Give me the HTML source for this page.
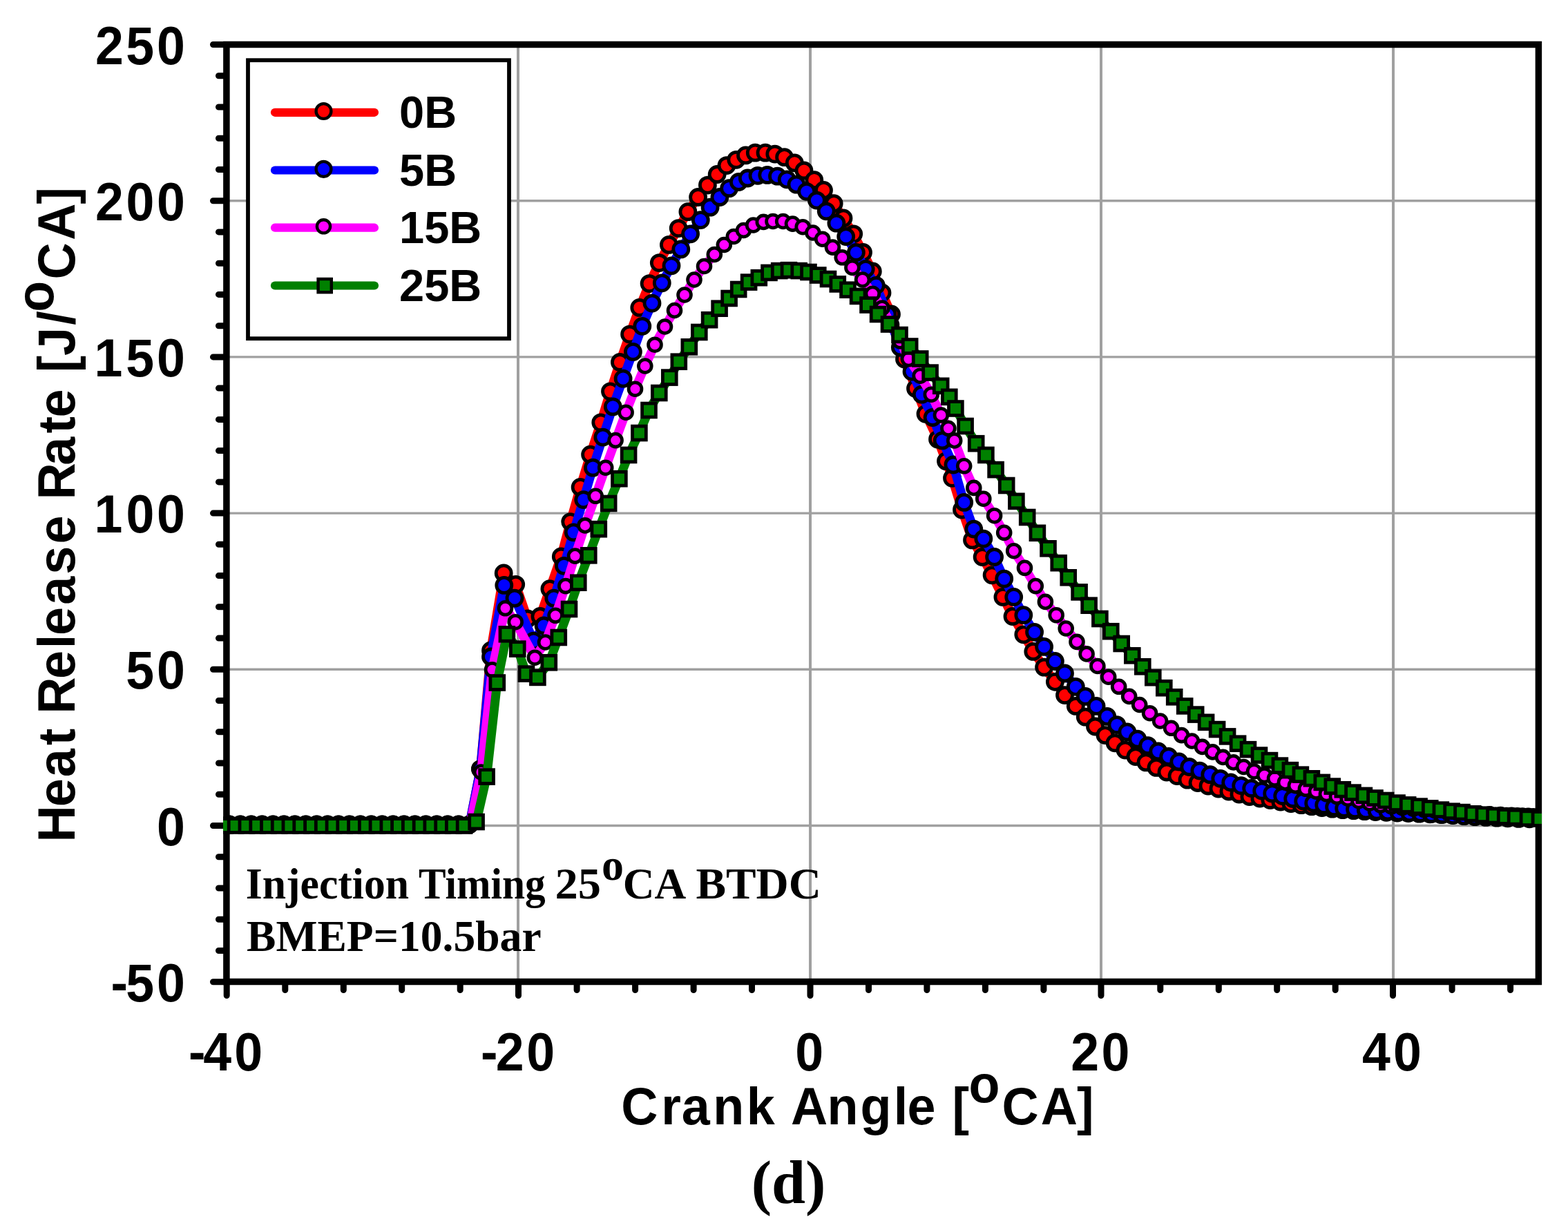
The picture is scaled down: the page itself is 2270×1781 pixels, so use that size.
<!DOCTYPE html><html><head><meta charset="utf-8"><title>Heat Release Rate</title><style>html,body{margin:0;padding:0;background:#fff;overflow:hidden;}svg{display:block;}</style></head><body>
<svg width="2270" height="1781" viewBox="0 0 2270 1781">
<rect x="0" y="0" width="2270" height="1781" fill="#fff"/>
<defs><clipPath id="pc"><rect x="323" y="60" width="1909" height="1366"/></clipPath></defs>
<path d="M750 64.5V1421.5M1173 64.5V1421.5M1594 64.5V1421.5M2017 64.5V1421.5" stroke="#a0a0a0" stroke-width="4" fill="none"/>
<path d="M328 1195.5H2228M328 969.3H2228M328 743.1H2228M328 516.9H2228M328 290.7H2228" stroke="#a0a0a0" stroke-width="3.4" fill="none"/>
<g font-family="'Liberation Serif','Times New Roman',serif" font-weight="bold" font-size="64"><text x="355.8" y="1300.8" textLength="236.2" lengthAdjust="spacingAndGlyphs">Injection</text><text x="605.9" y="1300.8" textLength="183.7" lengthAdjust="spacingAndGlyphs">Timing</text><text x="803.6" y="1300.8" textLength="66.5" lengthAdjust="spacingAndGlyphs">25</text><text x="871" y="1274.3">o</text><text x="901.7" y="1300.8" textLength="91.5" lengthAdjust="spacingAndGlyphs">CA</text><text x="1007.5" y="1300.8" textLength="181.4" lengthAdjust="spacingAndGlyphs">BTDC</text></g>
<text x="357" y="1377" font-family="'Liberation Serif','Times New Roman',serif" font-weight="bold" font-size="64" textLength="426.6" lengthAdjust="spacingAndGlyphs">BMEP=10.5bar</text>
<rect x="327.9" y="64.5" width="1899.5" height="1357" fill="none" stroke="#000" stroke-width="9.5"/>
<path d="M308.5 1421.7H327M316.5 1376.5H327M316.5 1331.2H327M316.5 1286.0H327M316.5 1240.7H327M308.5 1195.5H327M316.5 1150.3H327M316.5 1105.0H327M316.5 1059.8H327M316.5 1014.5H327M308.5 969.3H327M316.5 924.1H327M316.5 878.8H327M316.5 833.6H327M316.5 788.3H327M308.5 743.1H327M316.5 697.9H327M316.5 652.6H327M316.5 607.4H327M316.5 562.1H327M308.5 516.9H327M316.5 471.7H327M316.5 426.4H327M316.5 381.2H327M316.5 335.9H327M308.5 290.7H327M316.5 245.5H327M316.5 200.2H327M316.5 155.0H327M316.5 109.7H327M308.5 64.5H327M328.2 1422V1441.5M412.8 1422V1433.5M497.3 1422V1433.5M581.7 1422V1433.5M666.2 1422V1433.5M750.5 1422V1441.5M835.1 1422V1433.5M919.6 1422V1433.5M1004.1 1422V1433.5M1088.5 1422V1433.5M1173.0 1422V1441.5M1257.5 1422V1433.5M1341.9 1422V1433.5M1426.4 1422V1433.5M1510.9 1422V1433.5M1594.0 1422V1441.5M1679.8 1422V1433.5M1764.3 1422V1433.5M1848.7 1422V1433.5M1933.2 1422V1433.5M2016.5 1422V1441.5M2102.1 1422V1433.5M2186.6 1422V1433.5" stroke="#000" stroke-width="9" stroke-linecap="round" fill="none"/>
<text transform="scale(0.955 1)" x="168.16 190.83 237.70" y="1449.9" font-family="'Liberation Sans',Arial,Helvetica,sans-serif" font-weight="bold" font-size="77.0">-50</text>
<text transform="scale(0.955 1)" x="237.70" y="1223.7" font-family="'Liberation Sans',Arial,Helvetica,sans-serif" font-weight="bold" font-size="77.0">0</text>
<text transform="scale(0.955 1)" x="190.83 237.70" y="997.5" font-family="'Liberation Sans',Arial,Helvetica,sans-serif" font-weight="bold" font-size="77.0">50</text>
<text transform="scale(0.955 1)" x="142.89 191.00 237.70" y="771.3" font-family="'Liberation Sans',Arial,Helvetica,sans-serif" font-weight="bold" font-size="77.0">100</text>
<text transform="scale(0.955 1)" x="142.89 190.83 237.70" y="545.1" font-family="'Liberation Sans',Arial,Helvetica,sans-serif" font-weight="bold" font-size="77.0">150</text>
<text transform="scale(0.955 1)" x="144.45 191.00 237.70" y="318.9" font-family="'Liberation Sans',Arial,Helvetica,sans-serif" font-weight="bold" font-size="77.0">200</text>
<text transform="scale(0.955 1)" x="144.45 190.83 237.70" y="92.7" font-family="'Liberation Sans',Arial,Helvetica,sans-serif" font-weight="bold" font-size="77.0">250</text>
<text transform="scale(0.955 1)" x="285.75 308.16 355.29" y="1550.3" font-family="'Liberation Sans',Arial,Helvetica,sans-serif" font-weight="bold" font-size="77.0">-40</text>
<text transform="scale(0.955 1)" x="728.68 751.67 798.23" y="1550.3" font-family="'Liberation Sans',Arial,Helvetica,sans-serif" font-weight="bold" font-size="77.0">-20</text>
<text transform="scale(0.955 1)" x="1205.56" y="1550.3" font-family="'Liberation Sans',Arial,Helvetica,sans-serif" font-weight="bold" font-size="77.0">0</text>
<text transform="scale(0.955 1)" x="1623.19 1669.74" y="1550.3" font-family="'Liberation Sans',Arial,Helvetica,sans-serif" font-weight="bold" font-size="77.0">20</text>
<text transform="scale(0.955 1)" x="2065.02 2112.15" y="1550.3" font-family="'Liberation Sans',Arial,Helvetica,sans-serif" font-weight="bold" font-size="77.0">40</text>
<text transform="scale(0.96 1)" y="1627.8" font-family="'Liberation Sans',Arial,Helvetica,sans-serif" font-weight="bold" font-size="76.7"><tspan x="936.78 997.03 1027.77 1075.28 1125.90 1168.56 1192.73 1247.41 1297.31 1347.61 1368.33 1410.98 1436.06">Crank Angle [</tspan><tspan x="1460.95" dy="-31.5">o</tspan><tspan x="1510.84 1569.60 1623.97" dy="31.5">CA]</tspan></text>
<text transform="translate(108 0) rotate(-90) scale(0.96 1)" y="0" font-family="'Liberation Sans',Arial,Helvetica,sans-serif" font-weight="bold" font-size="76.7"><tspan x="-1270.23 -1216.83 -1172.02 -1124.23 -1098.69 -1076.92 -1023.96 -978.38 -958.39 -912.33 -866.52 -820.32 -777.66 -753.74 -701.76 -653.76 -629.59 -586.93 -561.75 -536.42 -490.24">Heat Release Rate [J/</tspan><tspan x="-470.51" dy="-30.8">o</tspan><tspan x="-421.34 -362.27 -308.17" dy="30.8">CA]</tspan></text>
<text x="1141.5" y="1741.9" text-anchor="middle" font-family="'Liberation Serif','Times New Roman',serif" font-weight="bold" font-size="88">(d)</text>
<g clip-path="url(#pc)">
<polyline points="316.3,1193.8 332.1,1193.8 347.9,1193.8 363.7,1193.8 379.5,1193.8 395.3,1193.8 411.1,1193.8 426.9,1193.8 442.7,1193.8 458.5,1193.8 474.3,1193.8 490.1,1193.8 505.9,1193.8 521.7,1193.8 537.5,1193.8 553.3,1193.8 569.1,1193.8 584.9,1193.8 600.7,1193.8 616.5,1193.8 632.3,1193.8 648.1,1193.8 663.9,1193.8 679.7,1193.8 695.5,1113.6 710.5,942.0 729.2,829.9 746.7,846.3 763.7,896.0 781.9,892.5 795.9,852.7 812.3,806.0 825.7,755.6 840.1,705.4 854.6,658.2 869.8,611.8 883.5,566.8 897.4,524.5 911.6,484.1 925.8,445.4 940.1,410.6 954.3,380.6 968.4,354.4 982.2,330.6 995.9,306.7 1010.6,285.5 1024.4,268.1 1038.2,252.5 1052.0,239.6 1065.8,231.3 1079.5,224.9 1093.3,221.2 1108.0,221.2 1121.8,223.1 1135.6,227.7 1150.3,235.9 1164.0,247.0 1178.8,260.7 1192.5,275.4 1207.2,294.7 1221.0,315.9 1235.7,338.8 1249.5,365.5 1263.3,393.0 1277.0,424.0 1290.5,455.0 1309.5,520.0 1325.5,562.4 1340.0,599.3 1357.5,636.1 1369.5,667.7 1378.5,692.3 1392.5,738.0 1407.5,781.9 1422.1,806.5 1436.1,832.8 1451.9,864.4 1466.0,892.5 1481.8,918.8 1495.8,943.4 1511.6,966.2 1527.4,987.3 1541.5,1006.6 1557.3,1022.4 1571.3,1038.2 1585.5,1052.0 1600.0,1064.6 1614.1,1075.8 1629.0,1086.1 1644.0,1095.5 1659.0,1103.9 1674.0,1111.4 1689.0,1118.0 1704.0,1123.6 1719.0,1129.2 1734.0,1133.5 1749.0,1138.0 1764.0,1142.0 1778.9,1146.0 1793.9,1150.0 1808.9,1153.5 1823.9,1156.0 1838.9,1158.5 1853.9,1161.0 1868.9,1163.5 1883.9,1165.7 1898.9,1167.7 1913.8,1169.5 1928.8,1171.2 1943.8,1172.7 1959.6,1173.7 1975.4,1174.7 1991.2,1175.6 2007.0,1176.3 2022.8,1177.0 2038.6,1177.6 2054.4,1178.2 2070.2,1178.8 2086.0,1179.5 2101.8,1180.1 2117.6,1180.6 2133.4,1181.1 2149.2,1181.5 2165.0,1181.8 2180.8,1182.2 2196.6,1182.5 2212.4,1182.8 2228.2,1183.0" fill="none" stroke="#ff0000" stroke-width="13" stroke-linejoin="round" stroke-linecap="round"/>
<g fill="#ff0000" stroke="#000" stroke-width="4.8"><circle cx="316.3" cy="1193.8" r="11.0"/><circle cx="332.1" cy="1193.8" r="11.0"/><circle cx="347.9" cy="1193.8" r="11.0"/><circle cx="363.7" cy="1193.8" r="11.0"/><circle cx="379.5" cy="1193.8" r="11.0"/><circle cx="395.3" cy="1193.8" r="11.0"/><circle cx="411.1" cy="1193.8" r="11.0"/><circle cx="426.9" cy="1193.8" r="11.0"/><circle cx="442.7" cy="1193.8" r="11.0"/><circle cx="458.5" cy="1193.8" r="11.0"/><circle cx="474.3" cy="1193.8" r="11.0"/><circle cx="490.1" cy="1193.8" r="11.0"/><circle cx="505.9" cy="1193.8" r="11.0"/><circle cx="521.7" cy="1193.8" r="11.0"/><circle cx="537.5" cy="1193.8" r="11.0"/><circle cx="553.3" cy="1193.8" r="11.0"/><circle cx="569.1" cy="1193.8" r="11.0"/><circle cx="584.9" cy="1193.8" r="11.0"/><circle cx="600.7" cy="1193.8" r="11.0"/><circle cx="616.5" cy="1193.8" r="11.0"/><circle cx="632.3" cy="1193.8" r="11.0"/><circle cx="648.1" cy="1193.8" r="11.0"/><circle cx="663.9" cy="1193.8" r="11.0"/><circle cx="679.7" cy="1193.8" r="11.0"/><circle cx="695.5" cy="1113.6" r="11.0"/><circle cx="710.5" cy="942.0" r="11.0"/><circle cx="729.2" cy="829.9" r="11.0"/><circle cx="746.7" cy="846.3" r="11.0"/><circle cx="763.7" cy="896.0" r="11.0"/><circle cx="781.9" cy="892.5" r="11.0"/><circle cx="795.9" cy="852.7" r="11.0"/><circle cx="812.3" cy="806.0" r="11.0"/><circle cx="825.7" cy="755.6" r="11.0"/><circle cx="840.1" cy="705.4" r="11.0"/><circle cx="854.6" cy="658.2" r="11.0"/><circle cx="869.8" cy="611.8" r="11.0"/><circle cx="883.5" cy="566.8" r="11.0"/><circle cx="897.4" cy="524.5" r="11.0"/><circle cx="911.6" cy="484.1" r="11.0"/><circle cx="925.8" cy="445.4" r="11.0"/><circle cx="940.1" cy="410.6" r="11.0"/><circle cx="954.3" cy="380.6" r="11.0"/><circle cx="968.4" cy="354.4" r="11.0"/><circle cx="982.2" cy="330.6" r="11.0"/><circle cx="995.9" cy="306.7" r="11.0"/><circle cx="1010.6" cy="285.5" r="11.0"/><circle cx="1024.4" cy="268.1" r="11.0"/><circle cx="1038.2" cy="252.5" r="11.0"/><circle cx="1052.0" cy="239.6" r="11.0"/><circle cx="1065.8" cy="231.3" r="11.0"/><circle cx="1079.5" cy="224.9" r="11.0"/><circle cx="1093.3" cy="221.2" r="11.0"/><circle cx="1108.0" cy="221.2" r="11.0"/><circle cx="1121.8" cy="223.1" r="11.0"/><circle cx="1135.6" cy="227.7" r="11.0"/><circle cx="1150.3" cy="235.9" r="11.0"/><circle cx="1164.0" cy="247.0" r="11.0"/><circle cx="1178.8" cy="260.7" r="11.0"/><circle cx="1192.5" cy="275.4" r="11.0"/><circle cx="1207.2" cy="294.7" r="11.0"/><circle cx="1221.0" cy="315.9" r="11.0"/><circle cx="1235.7" cy="338.8" r="11.0"/><circle cx="1249.5" cy="365.5" r="11.0"/><circle cx="1263.3" cy="393.0" r="11.0"/><circle cx="1277.0" cy="424.0" r="11.0"/><circle cx="1290.5" cy="455.0" r="11.0"/><circle cx="1309.5" cy="520.0" r="11.0"/><circle cx="1325.5" cy="562.4" r="11.0"/><circle cx="1340.0" cy="599.3" r="11.0"/><circle cx="1357.5" cy="636.1" r="11.0"/><circle cx="1369.5" cy="667.7" r="11.0"/><circle cx="1378.5" cy="692.3" r="11.0"/><circle cx="1392.5" cy="738.0" r="11.0"/><circle cx="1407.5" cy="781.9" r="11.0"/><circle cx="1422.1" cy="806.5" r="11.0"/><circle cx="1436.1" cy="832.8" r="11.0"/><circle cx="1451.9" cy="864.4" r="11.0"/><circle cx="1466.0" cy="892.5" r="11.0"/><circle cx="1481.8" cy="918.8" r="11.0"/><circle cx="1495.8" cy="943.4" r="11.0"/><circle cx="1511.6" cy="966.2" r="11.0"/><circle cx="1527.4" cy="987.3" r="11.0"/><circle cx="1541.5" cy="1006.6" r="11.0"/><circle cx="1557.3" cy="1022.4" r="11.0"/><circle cx="1571.3" cy="1038.2" r="11.0"/><circle cx="1585.5" cy="1052.0" r="11.0"/><circle cx="1600.0" cy="1064.6" r="11.0"/><circle cx="1614.1" cy="1075.8" r="11.0"/><circle cx="1629.0" cy="1086.1" r="11.0"/><circle cx="1644.0" cy="1095.5" r="11.0"/><circle cx="1659.0" cy="1103.9" r="11.0"/><circle cx="1674.0" cy="1111.4" r="11.0"/><circle cx="1689.0" cy="1118.0" r="11.0"/><circle cx="1704.0" cy="1123.6" r="11.0"/><circle cx="1719.0" cy="1129.2" r="11.0"/><circle cx="1734.0" cy="1133.5" r="11.0"/><circle cx="1749.0" cy="1138.0" r="11.0"/><circle cx="1764.0" cy="1142.0" r="11.0"/><circle cx="1778.9" cy="1146.0" r="11.0"/><circle cx="1793.9" cy="1150.0" r="11.0"/><circle cx="1808.9" cy="1153.5" r="11.0"/><circle cx="1823.9" cy="1156.0" r="11.0"/><circle cx="1838.9" cy="1158.5" r="11.0"/><circle cx="1853.9" cy="1161.0" r="11.0"/><circle cx="1868.9" cy="1163.5" r="11.0"/><circle cx="1883.9" cy="1165.7" r="11.0"/><circle cx="1898.9" cy="1167.7" r="11.0"/><circle cx="1913.8" cy="1169.5" r="11.0"/><circle cx="1928.8" cy="1171.2" r="11.0"/><circle cx="1943.8" cy="1172.7" r="11.0"/><circle cx="1959.6" cy="1173.7" r="11.0"/><circle cx="1975.4" cy="1174.7" r="11.0"/><circle cx="1991.2" cy="1175.6" r="11.0"/><circle cx="2007.0" cy="1176.3" r="11.0"/><circle cx="2022.8" cy="1177.0" r="11.0"/><circle cx="2038.6" cy="1177.6" r="11.0"/><circle cx="2054.4" cy="1178.2" r="11.0"/><circle cx="2070.2" cy="1178.8" r="11.0"/><circle cx="2086.0" cy="1179.5" r="11.0"/><circle cx="2101.8" cy="1180.1" r="11.0"/><circle cx="2117.6" cy="1180.6" r="11.0"/><circle cx="2133.4" cy="1181.1" r="11.0"/><circle cx="2149.2" cy="1181.5" r="11.0"/><circle cx="2165.0" cy="1181.8" r="11.0"/><circle cx="2180.8" cy="1182.2" r="11.0"/><circle cx="2196.6" cy="1182.5" r="11.0"/><circle cx="2212.4" cy="1182.8" r="11.0"/><circle cx="2228.2" cy="1183.0" r="11.0"/></g>
<polyline points="316.3,1193.8 332.1,1193.8 347.9,1193.8 363.7,1193.8 379.5,1193.8 395.3,1193.8 411.1,1193.8 426.9,1193.8 442.7,1193.8 458.5,1193.8 474.3,1193.8 490.1,1193.8 505.9,1193.8 521.7,1193.8 537.5,1193.8 553.3,1193.8 569.1,1193.8 584.9,1193.8 600.7,1193.8 616.5,1193.8 632.3,1193.8 648.1,1193.8 663.9,1193.8 679.7,1193.8 695.5,1113.6 710.5,951.0 729.8,847.4 745.0,866.2 772.5,928.2 787.1,906.0 801.8,866.2 816.4,819.3 830.2,770.8 844.7,723.6 858.4,677.2 872.8,633.1 887.3,588.9 902.1,548.2 916.4,509.4 929.8,472.3 944.0,439.1 958.3,409.8 972.0,384.8 985.8,360.9 999.6,338.8 1014.3,318.6 1028.1,300.2 1041.9,285.5 1055.6,272.7 1069.4,263.5 1082.3,258.0 1097.0,254.3 1110.8,253.4 1125.5,255.2 1139.2,259.8 1153.0,267.2 1167.7,277.3 1182.4,290.1 1196.2,305.8 1210.9,323.2 1224.7,342.5 1239.4,365.5 1253.2,389.4 1268.3,413.3 1285.0,455.0 1303.3,503.0 1320.0,538.1 1334.3,571.2 1350.1,604.5 1364.1,637.9 1379.9,673.0 1395.7,727.4 1409.8,766.1 1423.8,780.1 1439.6,806.5 1453.7,838.1 1467.7,864.4 1481.8,890.7 1497.6,915.3 1511.6,936.4 1527.4,957.5 1541.5,975.0 1557.3,994.3 1571.3,1008.4 1587.1,1022.4 1602.8,1037.4 1616.9,1049.6 1631.9,1059.9 1646.8,1070.2 1661.8,1079.6 1676.8,1088.0 1691.8,1095.5 1706.8,1103.0 1721.8,1110.5 1736.8,1116.1 1751.8,1121.7 1766.8,1127.3 1781.7,1133.0 1796.7,1137.6 1811.7,1141.4 1826.7,1145.1 1841.7,1148.9 1856.7,1152.6 1871.7,1156.4 1886.7,1160.1 1901.7,1162.9 1916.7,1165.7 1931.6,1168.6 1945.7,1170.4 1961.5,1171.7 1977.3,1173.0 1993.1,1174.1 2008.9,1175.0 2024.7,1175.8 2040.5,1176.6 2056.3,1177.5 2072.1,1178.5 2087.9,1179.5 2103.7,1180.6 2119.5,1181.7 2135.3,1182.7 2151.1,1183.4 2166.9,1184.2 2182.7,1184.8 2198.5,1185.4 2214.3,1185.8" fill="none" stroke="#0000ff" stroke-width="13" stroke-linejoin="round" stroke-linecap="round"/>
<g fill="#0000ff" stroke="#000" stroke-width="4.8"><circle cx="316.3" cy="1193.8" r="11.0"/><circle cx="332.1" cy="1193.8" r="11.0"/><circle cx="347.9" cy="1193.8" r="11.0"/><circle cx="363.7" cy="1193.8" r="11.0"/><circle cx="379.5" cy="1193.8" r="11.0"/><circle cx="395.3" cy="1193.8" r="11.0"/><circle cx="411.1" cy="1193.8" r="11.0"/><circle cx="426.9" cy="1193.8" r="11.0"/><circle cx="442.7" cy="1193.8" r="11.0"/><circle cx="458.5" cy="1193.8" r="11.0"/><circle cx="474.3" cy="1193.8" r="11.0"/><circle cx="490.1" cy="1193.8" r="11.0"/><circle cx="505.9" cy="1193.8" r="11.0"/><circle cx="521.7" cy="1193.8" r="11.0"/><circle cx="537.5" cy="1193.8" r="11.0"/><circle cx="553.3" cy="1193.8" r="11.0"/><circle cx="569.1" cy="1193.8" r="11.0"/><circle cx="584.9" cy="1193.8" r="11.0"/><circle cx="600.7" cy="1193.8" r="11.0"/><circle cx="616.5" cy="1193.8" r="11.0"/><circle cx="632.3" cy="1193.8" r="11.0"/><circle cx="648.1" cy="1193.8" r="11.0"/><circle cx="663.9" cy="1193.8" r="11.0"/><circle cx="679.7" cy="1193.8" r="11.0"/><circle cx="695.5" cy="1113.6" r="11.0"/><circle cx="710.5" cy="951.0" r="11.0"/><circle cx="729.8" cy="847.4" r="11.0"/><circle cx="745.0" cy="866.2" r="11.0"/><circle cx="772.5" cy="928.2" r="11.0"/><circle cx="787.1" cy="906.0" r="11.0"/><circle cx="801.8" cy="866.2" r="11.0"/><circle cx="816.4" cy="819.3" r="11.0"/><circle cx="830.2" cy="770.8" r="11.0"/><circle cx="844.7" cy="723.6" r="11.0"/><circle cx="858.4" cy="677.2" r="11.0"/><circle cx="872.8" cy="633.1" r="11.0"/><circle cx="887.3" cy="588.9" r="11.0"/><circle cx="902.1" cy="548.2" r="11.0"/><circle cx="916.4" cy="509.4" r="11.0"/><circle cx="929.8" cy="472.3" r="11.0"/><circle cx="944.0" cy="439.1" r="11.0"/><circle cx="958.3" cy="409.8" r="11.0"/><circle cx="972.0" cy="384.8" r="11.0"/><circle cx="985.8" cy="360.9" r="11.0"/><circle cx="999.6" cy="338.8" r="11.0"/><circle cx="1014.3" cy="318.6" r="11.0"/><circle cx="1028.1" cy="300.2" r="11.0"/><circle cx="1041.9" cy="285.5" r="11.0"/><circle cx="1055.6" cy="272.7" r="11.0"/><circle cx="1069.4" cy="263.5" r="11.0"/><circle cx="1082.3" cy="258.0" r="11.0"/><circle cx="1097.0" cy="254.3" r="11.0"/><circle cx="1110.8" cy="253.4" r="11.0"/><circle cx="1125.5" cy="255.2" r="11.0"/><circle cx="1139.2" cy="259.8" r="11.0"/><circle cx="1153.0" cy="267.2" r="11.0"/><circle cx="1167.7" cy="277.3" r="11.0"/><circle cx="1182.4" cy="290.1" r="11.0"/><circle cx="1196.2" cy="305.8" r="11.0"/><circle cx="1210.9" cy="323.2" r="11.0"/><circle cx="1224.7" cy="342.5" r="11.0"/><circle cx="1239.4" cy="365.5" r="11.0"/><circle cx="1253.2" cy="389.4" r="11.0"/><circle cx="1268.3" cy="413.3" r="11.0"/><circle cx="1285.0" cy="455.0" r="11.0"/><circle cx="1303.3" cy="503.0" r="11.0"/><circle cx="1320.0" cy="538.1" r="11.0"/><circle cx="1334.3" cy="571.2" r="11.0"/><circle cx="1350.1" cy="604.5" r="11.0"/><circle cx="1364.1" cy="637.9" r="11.0"/><circle cx="1379.9" cy="673.0" r="11.0"/><circle cx="1395.7" cy="727.4" r="11.0"/><circle cx="1409.8" cy="766.1" r="11.0"/><circle cx="1423.8" cy="780.1" r="11.0"/><circle cx="1439.6" cy="806.5" r="11.0"/><circle cx="1453.7" cy="838.1" r="11.0"/><circle cx="1467.7" cy="864.4" r="11.0"/><circle cx="1481.8" cy="890.7" r="11.0"/><circle cx="1497.6" cy="915.3" r="11.0"/><circle cx="1511.6" cy="936.4" r="11.0"/><circle cx="1527.4" cy="957.5" r="11.0"/><circle cx="1541.5" cy="975.0" r="11.0"/><circle cx="1557.3" cy="994.3" r="11.0"/><circle cx="1571.3" cy="1008.4" r="11.0"/><circle cx="1587.1" cy="1022.4" r="11.0"/><circle cx="1602.8" cy="1037.4" r="11.0"/><circle cx="1616.9" cy="1049.6" r="11.0"/><circle cx="1631.9" cy="1059.9" r="11.0"/><circle cx="1646.8" cy="1070.2" r="11.0"/><circle cx="1661.8" cy="1079.6" r="11.0"/><circle cx="1676.8" cy="1088.0" r="11.0"/><circle cx="1691.8" cy="1095.5" r="11.0"/><circle cx="1706.8" cy="1103.0" r="11.0"/><circle cx="1721.8" cy="1110.5" r="11.0"/><circle cx="1736.8" cy="1116.1" r="11.0"/><circle cx="1751.8" cy="1121.7" r="11.0"/><circle cx="1766.8" cy="1127.3" r="11.0"/><circle cx="1781.7" cy="1133.0" r="11.0"/><circle cx="1796.7" cy="1137.6" r="11.0"/><circle cx="1811.7" cy="1141.4" r="11.0"/><circle cx="1826.7" cy="1145.1" r="11.0"/><circle cx="1841.7" cy="1148.9" r="11.0"/><circle cx="1856.7" cy="1152.6" r="11.0"/><circle cx="1871.7" cy="1156.4" r="11.0"/><circle cx="1886.7" cy="1160.1" r="11.0"/><circle cx="1901.7" cy="1162.9" r="11.0"/><circle cx="1916.7" cy="1165.7" r="11.0"/><circle cx="1931.6" cy="1168.6" r="11.0"/><circle cx="1945.7" cy="1170.4" r="11.0"/><circle cx="1961.5" cy="1171.7" r="11.0"/><circle cx="1977.3" cy="1173.0" r="11.0"/><circle cx="1993.1" cy="1174.1" r="11.0"/><circle cx="2008.9" cy="1175.0" r="11.0"/><circle cx="2024.7" cy="1175.8" r="11.0"/><circle cx="2040.5" cy="1176.6" r="11.0"/><circle cx="2056.3" cy="1177.5" r="11.0"/><circle cx="2072.1" cy="1178.5" r="11.0"/><circle cx="2087.9" cy="1179.5" r="11.0"/><circle cx="2103.7" cy="1180.6" r="11.0"/><circle cx="2119.5" cy="1181.7" r="11.0"/><circle cx="2135.3" cy="1182.7" r="11.0"/><circle cx="2151.1" cy="1183.4" r="11.0"/><circle cx="2166.9" cy="1184.2" r="11.0"/><circle cx="2182.7" cy="1184.8" r="11.0"/><circle cx="2198.5" cy="1185.4" r="11.0"/><circle cx="2214.3" cy="1185.8" r="11.0"/></g>
<polyline points="317.1,1193.8 332.9,1193.8 348.7,1193.8 364.5,1193.8 380.3,1193.8 396.1,1193.8 411.9,1193.8 427.7,1193.8 443.5,1193.8 459.3,1193.8 475.1,1193.8 490.9,1193.8 506.7,1193.8 522.5,1193.8 538.3,1193.8 554.1,1193.8 569.9,1193.8 585.7,1193.8 601.5,1193.8 617.3,1193.8 633.1,1193.8 648.9,1193.8 664.7,1193.8 680.5,1193.8 696.5,1118.0 712.5,969.8 731.5,880.8 746.2,900.7 774.3,952.2 789.5,930.0 804.1,891.3 818.8,848.6 832.5,805.1 847.0,760.9 862.2,718.3 876.7,677.2 891.1,637.6 906.1,597.2 919.5,563.2 933.8,530.0 948.0,499.2 962.5,473.0 976.5,449.5 991.0,427.0 1005.0,405.0 1019.5,385.5 1034.3,368.5 1048.3,354.5 1062.3,342.5 1076.5,333.5 1090.6,326.0 1105.3,321.4 1119.0,320.5 1133.7,320.5 1147.5,324.1 1162.2,328.7 1176.9,337.0 1190.7,346.2 1205.4,358.1 1219.2,372.8 1233.9,387.5 1248.6,405.0 1263.3,425.2 1277.0,446.0 1290.5,470.0 1303.0,494.0 1315.4,519.8 1332.2,544.2 1348.3,571.2 1362.4,601.0 1372.9,620.3 1381.7,637.9 1395.7,674.8 1409.8,706.4 1423.8,722.2 1439.6,746.7 1453.7,771.3 1467.7,797.7 1483.5,822.3 1499.3,848.6 1513.4,871.4 1529.2,890.7 1543.2,910.0 1559.0,929.4 1573.1,946.9 1588.9,964.5 1604.7,980.2 1619.7,994.3 1634.7,1008.4 1649.7,1020.5 1664.6,1032.7 1679.6,1044.0 1695.6,1054.3 1710.5,1064.6 1725.5,1073.0 1740.5,1081.4 1755.5,1088.9 1770.5,1096.4 1785.5,1103.9 1800.5,1110.5 1815.5,1117.0 1830.5,1122.7 1845.5,1127.3 1860.4,1132.9 1875.4,1137.6 1890.4,1142.3 1905.4,1146.1 1920.4,1149.8 1935.4,1153.6 1951.2,1156.2 1967.0,1159.7 1982.8,1163.0 1998.6,1165.8 2014.4,1167.9 2030.2,1169.6 2046.0,1171.1 2061.8,1172.6 2077.6,1173.9 2093.4,1175.0 2109.2,1176.1 2125.0,1177.1 2140.8,1178.0 2156.6,1178.8 2172.4,1179.6 2188.2,1180.4 2204.0,1181.0 2219.8,1181.7" fill="none" stroke="#ff00ff" stroke-width="13" stroke-linejoin="round" stroke-linecap="round"/>
<g fill="#ff00ff" stroke="#000" stroke-width="4.8"><circle cx="317.1" cy="1193.8" r="9.4"/><circle cx="332.9" cy="1193.8" r="9.4"/><circle cx="348.7" cy="1193.8" r="9.4"/><circle cx="364.5" cy="1193.8" r="9.4"/><circle cx="380.3" cy="1193.8" r="9.4"/><circle cx="396.1" cy="1193.8" r="9.4"/><circle cx="411.9" cy="1193.8" r="9.4"/><circle cx="427.7" cy="1193.8" r="9.4"/><circle cx="443.5" cy="1193.8" r="9.4"/><circle cx="459.3" cy="1193.8" r="9.4"/><circle cx="475.1" cy="1193.8" r="9.4"/><circle cx="490.9" cy="1193.8" r="9.4"/><circle cx="506.7" cy="1193.8" r="9.4"/><circle cx="522.5" cy="1193.8" r="9.4"/><circle cx="538.3" cy="1193.8" r="9.4"/><circle cx="554.1" cy="1193.8" r="9.4"/><circle cx="569.9" cy="1193.8" r="9.4"/><circle cx="585.7" cy="1193.8" r="9.4"/><circle cx="601.5" cy="1193.8" r="9.4"/><circle cx="617.3" cy="1193.8" r="9.4"/><circle cx="633.1" cy="1193.8" r="9.4"/><circle cx="648.9" cy="1193.8" r="9.4"/><circle cx="664.7" cy="1193.8" r="9.4"/><circle cx="680.5" cy="1193.8" r="9.4"/><circle cx="696.5" cy="1118.0" r="9.4"/><circle cx="712.5" cy="969.8" r="9.4"/><circle cx="731.5" cy="880.8" r="9.4"/><circle cx="746.2" cy="900.7" r="9.4"/><circle cx="774.3" cy="952.2" r="9.4"/><circle cx="789.5" cy="930.0" r="9.4"/><circle cx="804.1" cy="891.3" r="9.4"/><circle cx="818.8" cy="848.6" r="9.4"/><circle cx="832.5" cy="805.1" r="9.4"/><circle cx="847.0" cy="760.9" r="9.4"/><circle cx="862.2" cy="718.3" r="9.4"/><circle cx="876.7" cy="677.2" r="9.4"/><circle cx="891.1" cy="637.6" r="9.4"/><circle cx="906.1" cy="597.2" r="9.4"/><circle cx="919.5" cy="563.2" r="9.4"/><circle cx="933.8" cy="530.0" r="9.4"/><circle cx="948.0" cy="499.2" r="9.4"/><circle cx="962.5" cy="473.0" r="9.4"/><circle cx="976.5" cy="449.5" r="9.4"/><circle cx="991.0" cy="427.0" r="9.4"/><circle cx="1005.0" cy="405.0" r="9.4"/><circle cx="1019.5" cy="385.5" r="9.4"/><circle cx="1034.3" cy="368.5" r="9.4"/><circle cx="1048.3" cy="354.5" r="9.4"/><circle cx="1062.3" cy="342.5" r="9.4"/><circle cx="1076.5" cy="333.5" r="9.4"/><circle cx="1090.6" cy="326.0" r="9.4"/><circle cx="1105.3" cy="321.4" r="9.4"/><circle cx="1119.0" cy="320.5" r="9.4"/><circle cx="1133.7" cy="320.5" r="9.4"/><circle cx="1147.5" cy="324.1" r="9.4"/><circle cx="1162.2" cy="328.7" r="9.4"/><circle cx="1176.9" cy="337.0" r="9.4"/><circle cx="1190.7" cy="346.2" r="9.4"/><circle cx="1205.4" cy="358.1" r="9.4"/><circle cx="1219.2" cy="372.8" r="9.4"/><circle cx="1233.9" cy="387.5" r="9.4"/><circle cx="1248.6" cy="405.0" r="9.4"/><circle cx="1263.3" cy="425.2" r="9.4"/><circle cx="1277.0" cy="446.0" r="9.4"/><circle cx="1290.5" cy="470.0" r="9.4"/><circle cx="1303.0" cy="494.0" r="9.4"/><circle cx="1315.4" cy="519.8" r="9.4"/><circle cx="1332.2" cy="544.2" r="9.4"/><circle cx="1348.3" cy="571.2" r="9.4"/><circle cx="1362.4" cy="601.0" r="9.4"/><circle cx="1372.9" cy="620.3" r="9.4"/><circle cx="1381.7" cy="637.9" r="9.4"/><circle cx="1395.7" cy="674.8" r="9.4"/><circle cx="1409.8" cy="706.4" r="9.4"/><circle cx="1423.8" cy="722.2" r="9.4"/><circle cx="1439.6" cy="746.7" r="9.4"/><circle cx="1453.7" cy="771.3" r="9.4"/><circle cx="1467.7" cy="797.7" r="9.4"/><circle cx="1483.5" cy="822.3" r="9.4"/><circle cx="1499.3" cy="848.6" r="9.4"/><circle cx="1513.4" cy="871.4" r="9.4"/><circle cx="1529.2" cy="890.7" r="9.4"/><circle cx="1543.2" cy="910.0" r="9.4"/><circle cx="1559.0" cy="929.4" r="9.4"/><circle cx="1573.1" cy="946.9" r="9.4"/><circle cx="1588.9" cy="964.5" r="9.4"/><circle cx="1604.7" cy="980.2" r="9.4"/><circle cx="1619.7" cy="994.3" r="9.4"/><circle cx="1634.7" cy="1008.4" r="9.4"/><circle cx="1649.7" cy="1020.5" r="9.4"/><circle cx="1664.6" cy="1032.7" r="9.4"/><circle cx="1679.6" cy="1044.0" r="9.4"/><circle cx="1695.6" cy="1054.3" r="9.4"/><circle cx="1710.5" cy="1064.6" r="9.4"/><circle cx="1725.5" cy="1073.0" r="9.4"/><circle cx="1740.5" cy="1081.4" r="9.4"/><circle cx="1755.5" cy="1088.9" r="9.4"/><circle cx="1770.5" cy="1096.4" r="9.4"/><circle cx="1785.5" cy="1103.9" r="9.4"/><circle cx="1800.5" cy="1110.5" r="9.4"/><circle cx="1815.5" cy="1117.0" r="9.4"/><circle cx="1830.5" cy="1122.7" r="9.4"/><circle cx="1845.5" cy="1127.3" r="9.4"/><circle cx="1860.4" cy="1132.9" r="9.4"/><circle cx="1875.4" cy="1137.6" r="9.4"/><circle cx="1890.4" cy="1142.3" r="9.4"/><circle cx="1905.4" cy="1146.1" r="9.4"/><circle cx="1920.4" cy="1149.8" r="9.4"/><circle cx="1935.4" cy="1153.6" r="9.4"/><circle cx="1951.2" cy="1156.2" r="9.4"/><circle cx="1967.0" cy="1159.7" r="9.4"/><circle cx="1982.8" cy="1163.0" r="9.4"/><circle cx="1998.6" cy="1165.8" r="9.4"/><circle cx="2014.4" cy="1167.9" r="9.4"/><circle cx="2030.2" cy="1169.6" r="9.4"/><circle cx="2046.0" cy="1171.1" r="9.4"/><circle cx="2061.8" cy="1172.6" r="9.4"/><circle cx="2077.6" cy="1173.9" r="9.4"/><circle cx="2093.4" cy="1175.0" r="9.4"/><circle cx="2109.2" cy="1176.1" r="9.4"/><circle cx="2125.0" cy="1177.1" r="9.4"/><circle cx="2140.8" cy="1178.0" r="9.4"/><circle cx="2156.6" cy="1178.8" r="9.4"/><circle cx="2172.4" cy="1179.6" r="9.4"/><circle cx="2188.2" cy="1180.4" r="9.4"/><circle cx="2204.0" cy="1181.0" r="9.4"/><circle cx="2219.8" cy="1181.7" r="9.4"/></g>
<polyline points="325.4,1195.5 341.1,1195.5 356.9,1195.5 372.7,1195.5 388.4,1195.5 404.2,1195.5 419.9,1195.5 435.7,1195.5 451.5,1195.5 467.2,1195.5 483.0,1195.5 498.7,1195.5 514.5,1195.5 530.3,1195.5 546.0,1195.5 561.8,1195.5 577.5,1195.5 593.3,1195.5 609.1,1195.5 624.8,1195.5 640.6,1195.5 656.3,1195.5 672.1,1195.5 689.6,1190.0 704.6,1124.6 719.8,988.5 733.9,918.3 749.3,939.6 762.0,975.6 778.4,980.9 794.8,959.3 808.8,923.0 824.0,882.0 837.3,843.7 852.3,804.3 866.8,766.2 881.2,729.0 896.4,693.2 910.1,658.9 925.4,627.0 939.5,594.0 954.3,569.0 969.3,546.6 982.8,523.7 997.8,502.3 1012.3,481.0 1027.1,463.2 1041.6,446.7 1055.6,432.0 1069.2,419.0 1084.1,408.6 1098.8,402.2 1113.5,394.9 1128.2,392.1 1142.0,391.2 1156.7,392.1 1170.5,394.0 1184.3,398.5 1199.0,404.0 1212.8,411.4 1227.5,419.7 1242.1,428.9 1256.5,441.5 1271.1,455.0 1287.0,469.5 1302.5,485.0 1317.2,501.5 1332.2,519.5 1346.6,539.6 1362.2,558.8 1374.3,574.8 1383.4,591.5 1397.6,617.0 1413.2,642.2 1427.4,658.9 1441.6,680.1 1457.2,703.0 1471.4,725.8 1487.2,749.0 1501.9,771.8 1517.5,794.3 1532.7,815.2 1546.7,836.3 1562.6,857.4 1576.6,876.7 1592.4,896.0 1608.3,914.2 1623.7,932.0 1639.3,949.3 1654.3,965.3 1669.3,981.2 1685.3,996.2 1700.2,1009.3 1715.2,1022.4 1731.2,1034.6 1746.1,1045.8 1762.1,1056.1 1777.1,1066.4 1792.1,1076.7 1807.0,1085.2 1823.0,1093.6 1838.0,1101.1 1852.9,1108.6 1867.9,1115.2 1882.9,1121.7 1898.9,1127.3 1913.8,1132.9 1928.8,1138.6 1943.8,1143.3 1958.5,1147.6 1974.9,1151.9 1990.5,1155.5 2006.2,1159.0 2022.6,1162.6 2038.2,1165.4 2054.6,1167.6 2070.3,1170.4 2085.9,1172.6 2101.6,1174.7 2116.5,1176.1 2132.2,1178.3 2147.9,1179.7 2163.5,1181.1 2179.2,1182.5 2194.1,1183.2 2212.0,1184.7 2229.0,1185.4" fill="none" stroke="#008000" stroke-width="13" stroke-linejoin="round" stroke-linecap="round"/>
<g fill="#008000" stroke="#000" stroke-width="4.8"><rect x="315.5" y="1185.6" width="19.8" height="19.8"/><rect x="331.2" y="1185.6" width="19.8" height="19.8"/><rect x="347.0" y="1185.6" width="19.8" height="19.8"/><rect x="362.8" y="1185.6" width="19.8" height="19.8"/><rect x="378.5" y="1185.6" width="19.8" height="19.8"/><rect x="394.3" y="1185.6" width="19.8" height="19.8"/><rect x="410.0" y="1185.6" width="19.8" height="19.8"/><rect x="425.8" y="1185.6" width="19.8" height="19.8"/><rect x="441.6" y="1185.6" width="19.8" height="19.8"/><rect x="457.3" y="1185.6" width="19.8" height="19.8"/><rect x="473.1" y="1185.6" width="19.8" height="19.8"/><rect x="488.8" y="1185.6" width="19.8" height="19.8"/><rect x="504.6" y="1185.6" width="19.8" height="19.8"/><rect x="520.4" y="1185.6" width="19.8" height="19.8"/><rect x="536.1" y="1185.6" width="19.8" height="19.8"/><rect x="551.9" y="1185.6" width="19.8" height="19.8"/><rect x="567.6" y="1185.6" width="19.8" height="19.8"/><rect x="583.4" y="1185.6" width="19.8" height="19.8"/><rect x="599.2" y="1185.6" width="19.8" height="19.8"/><rect x="614.9" y="1185.6" width="19.8" height="19.8"/><rect x="630.7" y="1185.6" width="19.8" height="19.8"/><rect x="646.4" y="1185.6" width="19.8" height="19.8"/><rect x="662.2" y="1185.6" width="19.8" height="19.8"/><rect x="679.7" y="1180.1" width="19.8" height="19.8"/><rect x="694.7" y="1114.7" width="19.8" height="19.8"/><rect x="709.9" y="978.6" width="19.8" height="19.8"/><rect x="724.0" y="908.4" width="19.8" height="19.8"/><rect x="739.4" y="929.7" width="19.8" height="19.8"/><rect x="752.1" y="965.7" width="19.8" height="19.8"/><rect x="768.5" y="971.0" width="19.8" height="19.8"/><rect x="784.9" y="949.4" width="19.8" height="19.8"/><rect x="798.9" y="913.1" width="19.8" height="19.8"/><rect x="814.1" y="872.1" width="19.8" height="19.8"/><rect x="827.4" y="833.8" width="19.8" height="19.8"/><rect x="842.4" y="794.4" width="19.8" height="19.8"/><rect x="856.9" y="756.3" width="19.8" height="19.8"/><rect x="871.3" y="719.1" width="19.8" height="19.8"/><rect x="886.5" y="683.3" width="19.8" height="19.8"/><rect x="900.2" y="649.0" width="19.8" height="19.8"/><rect x="915.5" y="617.1" width="19.8" height="19.8"/><rect x="929.6" y="584.1" width="19.8" height="19.8"/><rect x="944.4" y="559.1" width="19.8" height="19.8"/><rect x="959.4" y="536.7" width="19.8" height="19.8"/><rect x="972.9" y="513.8" width="19.8" height="19.8"/><rect x="987.9" y="492.4" width="19.8" height="19.8"/><rect x="1002.4" y="471.1" width="19.8" height="19.8"/><rect x="1017.2" y="453.3" width="19.8" height="19.8"/><rect x="1031.7" y="436.8" width="19.8" height="19.8"/><rect x="1045.7" y="422.1" width="19.8" height="19.8"/><rect x="1059.3" y="409.1" width="19.8" height="19.8"/><rect x="1074.2" y="398.7" width="19.8" height="19.8"/><rect x="1088.9" y="392.3" width="19.8" height="19.8"/><rect x="1103.6" y="385.0" width="19.8" height="19.8"/><rect x="1118.3" y="382.2" width="19.8" height="19.8"/><rect x="1132.1" y="381.3" width="19.8" height="19.8"/><rect x="1146.8" y="382.2" width="19.8" height="19.8"/><rect x="1160.6" y="384.1" width="19.8" height="19.8"/><rect x="1174.4" y="388.6" width="19.8" height="19.8"/><rect x="1189.1" y="394.1" width="19.8" height="19.8"/><rect x="1202.9" y="401.5" width="19.8" height="19.8"/><rect x="1217.6" y="409.8" width="19.8" height="19.8"/><rect x="1232.2" y="419.0" width="19.8" height="19.8"/><rect x="1246.6" y="431.6" width="19.8" height="19.8"/><rect x="1261.2" y="445.1" width="19.8" height="19.8"/><rect x="1277.1" y="459.6" width="19.8" height="19.8"/><rect x="1292.6" y="475.1" width="19.8" height="19.8"/><rect x="1307.3" y="491.6" width="19.8" height="19.8"/><rect x="1322.3" y="509.6" width="19.8" height="19.8"/><rect x="1336.7" y="529.7" width="19.8" height="19.8"/><rect x="1352.3" y="548.9" width="19.8" height="19.8"/><rect x="1364.4" y="564.9" width="19.8" height="19.8"/><rect x="1373.5" y="581.6" width="19.8" height="19.8"/><rect x="1387.7" y="607.1" width="19.8" height="19.8"/><rect x="1403.3" y="632.3" width="19.8" height="19.8"/><rect x="1417.5" y="649.0" width="19.8" height="19.8"/><rect x="1431.7" y="670.2" width="19.8" height="19.8"/><rect x="1447.3" y="693.1" width="19.8" height="19.8"/><rect x="1461.5" y="715.9" width="19.8" height="19.8"/><rect x="1477.3" y="739.1" width="19.8" height="19.8"/><rect x="1492.0" y="761.9" width="19.8" height="19.8"/><rect x="1507.6" y="784.4" width="19.8" height="19.8"/><rect x="1522.8" y="805.3" width="19.8" height="19.8"/><rect x="1536.8" y="826.4" width="19.8" height="19.8"/><rect x="1552.7" y="847.5" width="19.8" height="19.8"/><rect x="1566.7" y="866.8" width="19.8" height="19.8"/><rect x="1582.5" y="886.1" width="19.8" height="19.8"/><rect x="1598.4" y="904.3" width="19.8" height="19.8"/><rect x="1613.8" y="922.1" width="19.8" height="19.8"/><rect x="1629.4" y="939.4" width="19.8" height="19.8"/><rect x="1644.4" y="955.4" width="19.8" height="19.8"/><rect x="1659.4" y="971.3" width="19.8" height="19.8"/><rect x="1675.4" y="986.3" width="19.8" height="19.8"/><rect x="1690.3" y="999.4" width="19.8" height="19.8"/><rect x="1705.3" y="1012.5" width="19.8" height="19.8"/><rect x="1721.3" y="1024.7" width="19.8" height="19.8"/><rect x="1736.2" y="1035.9" width="19.8" height="19.8"/><rect x="1752.2" y="1046.2" width="19.8" height="19.8"/><rect x="1767.2" y="1056.5" width="19.8" height="19.8"/><rect x="1782.2" y="1066.8" width="19.8" height="19.8"/><rect x="1797.1" y="1075.3" width="19.8" height="19.8"/><rect x="1813.1" y="1083.7" width="19.8" height="19.8"/><rect x="1828.1" y="1091.2" width="19.8" height="19.8"/><rect x="1843.0" y="1098.7" width="19.8" height="19.8"/><rect x="1858.0" y="1105.3" width="19.8" height="19.8"/><rect x="1873.0" y="1111.8" width="19.8" height="19.8"/><rect x="1889.0" y="1117.4" width="19.8" height="19.8"/><rect x="1903.9" y="1123.0" width="19.8" height="19.8"/><rect x="1918.9" y="1128.7" width="19.8" height="19.8"/><rect x="1933.9" y="1133.4" width="19.8" height="19.8"/><rect x="1948.6" y="1137.7" width="19.8" height="19.8"/><rect x="1965.0" y="1142.0" width="19.8" height="19.8"/><rect x="1980.6" y="1145.6" width="19.8" height="19.8"/><rect x="1996.3" y="1149.1" width="19.8" height="19.8"/><rect x="2012.7" y="1152.7" width="19.8" height="19.8"/><rect x="2028.3" y="1155.5" width="19.8" height="19.8"/><rect x="2044.7" y="1157.7" width="19.8" height="19.8"/><rect x="2060.4" y="1160.5" width="19.8" height="19.8"/><rect x="2076.0" y="1162.7" width="19.8" height="19.8"/><rect x="2091.7" y="1164.8" width="19.8" height="19.8"/><rect x="2106.6" y="1166.2" width="19.8" height="19.8"/><rect x="2122.3" y="1168.4" width="19.8" height="19.8"/><rect x="2138.0" y="1169.8" width="19.8" height="19.8"/><rect x="2153.6" y="1171.2" width="19.8" height="19.8"/><rect x="2169.3" y="1172.6" width="19.8" height="19.8"/><rect x="2184.2" y="1173.3" width="19.8" height="19.8"/><rect x="2202.1" y="1174.8" width="19.8" height="19.8"/><rect x="2219.1" y="1175.5" width="19.8" height="19.8"/></g>
</g>
<rect x="359" y="87.2" width="378" height="403" fill="#fff" stroke="#000" stroke-width="5.8"/>
<line x1="398" y1="162.8" x2="542" y2="162.8" stroke="#ff0000" stroke-width="12.2" stroke-linecap="round"/>
<circle cx="468.5" cy="161.0" r="10.9" fill="#ff0000" stroke="#000" stroke-width="4.4"/>
<text x="578" y="184.9" font-family="'Liberation Sans',Arial,Helvetica,sans-serif" font-weight="bold" font-size="65">0B</text>
<line x1="398" y1="246.5" x2="542" y2="246.5" stroke="#0000ff" stroke-width="12.2" stroke-linecap="round"/>
<circle cx="468.5" cy="244.8" r="10.9" fill="#0000ff" stroke="#000" stroke-width="4.4"/>
<text x="578" y="268.6" font-family="'Liberation Sans',Arial,Helvetica,sans-serif" font-weight="bold" font-size="65">5B</text>
<line x1="398" y1="329.7" x2="542" y2="329.7" stroke="#ff00ff" stroke-width="12.2" stroke-linecap="round"/>
<circle cx="468.5" cy="327.8" r="9.6" fill="#ff00ff" stroke="#000" stroke-width="4.4"/>
<text x="578" y="351.8" font-family="'Liberation Sans',Arial,Helvetica,sans-serif" font-weight="bold" font-size="65">15B</text>
<line x1="398" y1="413.5" x2="542" y2="413.5" stroke="#008000" stroke-width="12.2" stroke-linecap="round"/>
<rect x="460.6" y="404.0" width="19.2" height="19.2" fill="#008000" stroke="#000" stroke-width="4.4"/>
<text x="578" y="435.6" font-family="'Liberation Sans',Arial,Helvetica,sans-serif" font-weight="bold" font-size="65">25B</text>
</svg></body></html>
